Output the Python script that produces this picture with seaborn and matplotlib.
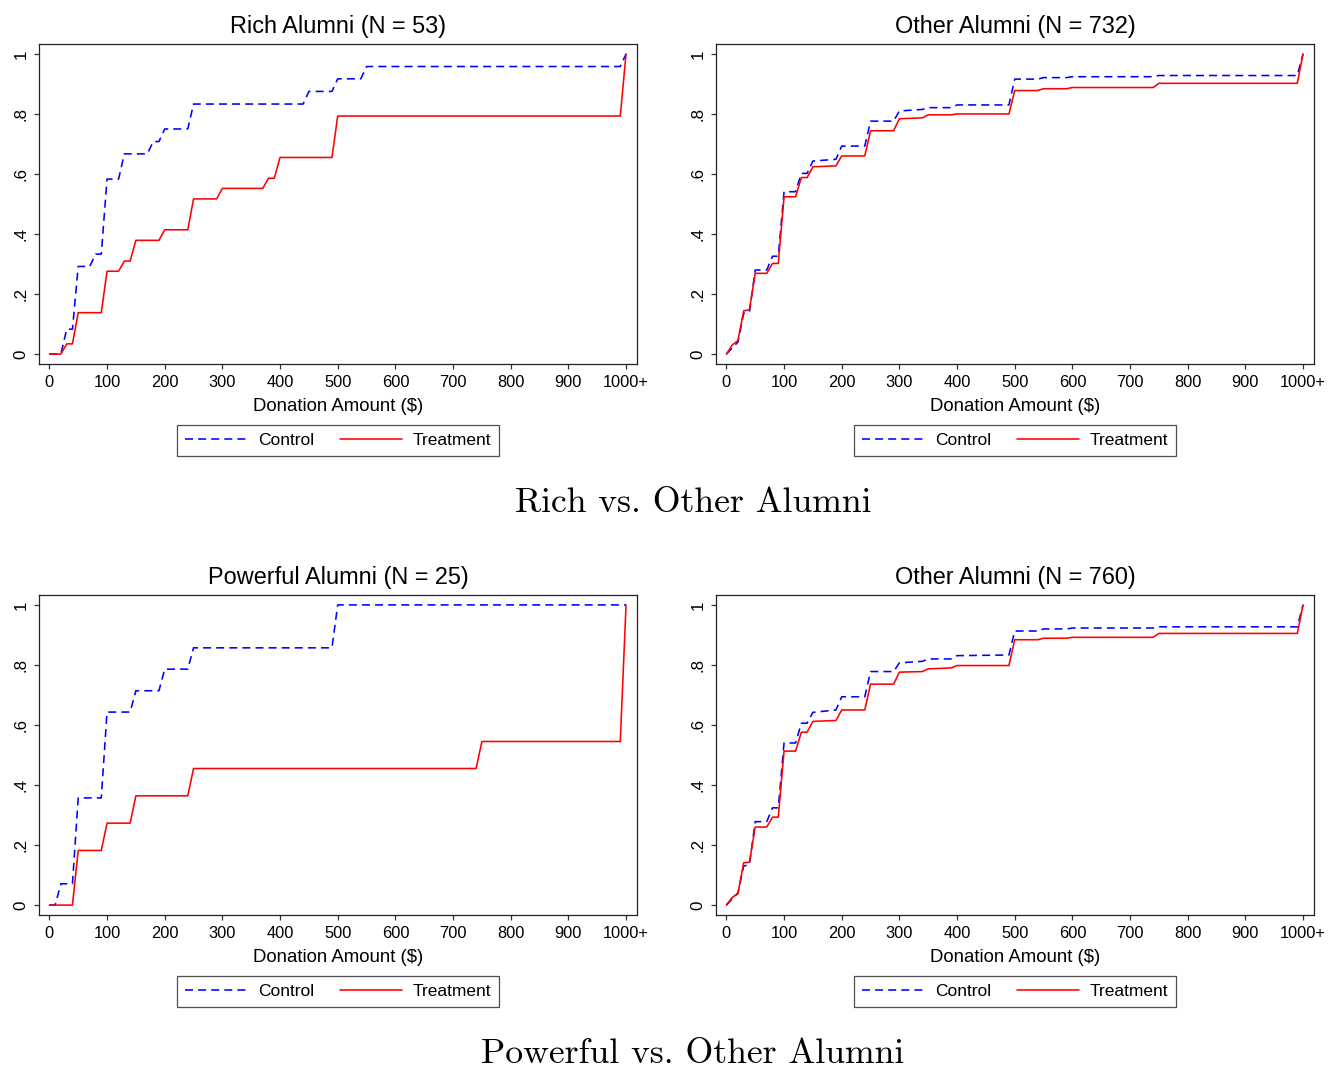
import matplotlib
matplotlib.use("Agg")
import matplotlib.pyplot as plt
import seaborn as sns
import pandas as pd

# ---------------- data (CDF vertices) ----------------
rich_ctrl_x = [0, 20, 30, 40, 50, 70, 80, 90, 100, 120, 130, 170, 180, 190, 200, 240, 250, 440, 450, 490, 500, 540, 550, 990, 1000]
rich_ctrl_y = [0, 0, .083, .083, .292, .292, .333, .333, .583, .583, .667, .667, .708, .708, .75, .75, .833, .833, .875, .875, .917, .917, .958, .958, 1]
rich_trt_x = [0, 20, 30, 40, 50, 90, 100, 120, 130, 140, 150, 190, 200, 240, 250, 290, 300, 370, 380, 390, 400, 490, 500, 990, 1000]
rich_trt_y = [0, 0, .034, .034, .138, .138, .276, .276, .310, .310, .379, .379, .414, .414, .517, .517, .552, .552, .586, .586, .655, .655, .793, .793, 1]

oth1_ctrl_x = [0, 10, 20, 30, 40, 50, 70, 80, 90, 100, 120, 130, 140, 150, 190, 200, 240, 250, 290, 300, 340, 350, 390, 400, 490, 500, 540, 550, 590, 600, 740, 750, 990, 1000]
oth1_ctrl_y = [0, .02, .04, .136, .14, .28, .28, .326, .326, .541, .541, .602, .602, .643, .649, .693, .693, .776, .776, .81, .815, .821, .821, .83, .83, .916, .916, .921, .921, .924, .924, .928, .928, 1]
oth1_trt_x = [0, 10, 20, 30, 40, 50, 70, 80, 90, 100, 120, 130, 140, 150, 190, 200, 240, 250, 290, 300, 340, 350, 390, 400, 490, 500, 540, 550, 590, 600, 740, 750, 990, 1000]
oth1_trt_y = [0, .03, .045, .144, .148, .269, .269, .302, .302, .524, .524, .588, .588, .624, .627, .66, .66, .744, .744, .784, .787, .797, .797, .80, .80, .878, .878, .884, .884, .888, .888, .902, .902, 1]

pow_ctrl_x = [0, 10, 20, 40, 50, 90, 100, 140, 150, 190, 200, 240, 250, 490, 500, 1000]
pow_ctrl_y = [0, 0, .071, .071, .357, .357, .643, .643, .714, .714, .786, .786, .857, .857, 1, 1]
pow_trt_x = [0, 40, 50, 90, 100, 140, 150, 240, 250, 740, 750, 990, 1000]
pow_trt_y = [0, 0, .182, .182, .273, .273, .364, .364, .455, .455, .545, .545, 1]

oth2_ctrl_x = [0, 10, 20, 30, 40, 50, 70, 80, 90, 100, 120, 130, 140, 150, 190, 200, 240, 250, 290, 300, 340, 350, 390, 400, 490, 500, 540, 550, 590, 600, 740, 750, 990, 1000]
oth2_ctrl_y = [0, .02, .04, .13, .135, .278, .278, .324, .324, .54, .54, .606, .606, .642, .65, .694, .694, .778, .778, .807, .812, .82, .82, .831, .833, .913, .913, .92, .92, .923, .923, .927, .927, 1]
oth2_trt_x = [0, 10, 20, 30, 40, 50, 70, 80, 90, 100, 120, 130, 140, 150, 190, 200, 240, 250, 290, 300, 340, 350, 390, 400, 490, 500, 540, 550, 590, 600, 740, 750, 990, 1000]
oth2_trt_y = [0, .025, .039, .141, .143, .26, .26, .293, .293, .513, .513, .576, .576, .612, .615, .65, .65, .736, .736, .776, .778, .787, .79, .798, .798, .884, .884, .889, .889, .892, .892, .905, .905, 1]

panel_titles = ["Rich Alumni (N = 53)", "Other Alumni (N = 732)",
                "Powerful Alumni (N = 25)", "Other Alumni (N = 760)"]
group_titles = ["Rich vs. Other Alumni", "Powerful vs. Other Alumni"]
series_names = ["Control", "Treatment"]
xtick_vals = [0, 100, 200, 300, 400, 500, 600, 700, 800, 900, 1000]
xtick_labels = ["0", "100", "200", "300", "400", "500", "600", "700", "800", "900", "1000+"]
ytick_vals = [0, 0.2, 0.4, 0.6, 0.8, 1.0]
ytick_labels = ["0", ".2", ".4", ".6", ".8", "1"]
xlabel = "Donation Amount ($)"

panels = [
    (rich_ctrl_x, rich_ctrl_y, rich_trt_x, rich_trt_y),
    (oth1_ctrl_x, oth1_ctrl_y, oth1_trt_x, oth1_trt_y),
    (pow_ctrl_x, pow_ctrl_y, pow_trt_x, pow_trt_y),
    (oth2_ctrl_x, oth2_ctrl_y, oth2_trt_x, oth2_trt_y),
]

# ---------------- style ----------------
sns.set_style("white")
plt.rcParams["font.family"] = ["Liberation Sans", "DejaVu Sans"]
plt.rcParams["axes.edgecolor"] = "#222222"
plt.rcParams["axes.linewidth"] = 0.9
plt.rcParams["text.color"] = "black"
plt.rcParams["axes.labelcolor"] = "black"

W, H = 1329, 1069
fig = plt.figure(figsize=(W / 100, H / 100), dpi=100)

# axes boxes in pixels: (left, top, right, bottom)
boxes = [(39, 44, 637, 364), (716, 44, 1314, 364),
         (39, 595, 637, 915), (716, 595, 1314, 915)]

palette = {"Control": "#0000ff", "Treatment": "#ff0000"}
dashes = {"Control": (5, 3.2), "Treatment": ""}

for i, (box, (cx, cy, tx, ty)) in enumerate(zip(boxes, panels)):
    assert len(cx) == len(cy) and len(tx) == len(ty)
    l, t, r, b = box
    ax = fig.add_axes([l / W, 1 - b / H, (r - l) / W, (b - t) / H])
    df = pd.DataFrame({
        "x": list(cx) + list(tx),
        "y": list(cy) + list(ty),
        "group": ["Control"] * len(cx) + ["Treatment"] * len(tx),
    })
    sns.lineplot(data=df, x="x", y="y", hue="group", style="group",
                 hue_order=series_names, style_order=series_names,
                 palette=palette, dashes=dashes, estimator=None, sort=False,
                 linewidth=1.15, legend=False, ax=ax)
    ax.set_xlim(-18, 1019)
    ax.set_ylim(-0.033, 1.033)
    ax.set_xticks(xtick_vals)
    ax.set_xticklabels(xtick_labels, fontsize=11.8)
    ax.set_yticks(ytick_vals)
    ax.set_yticklabels(ytick_labels, fontsize=12.2, rotation=90, va="center")
    ax.tick_params(axis="both", direction="out", length=3.6, width=0.9,
                   colors="#333333", labelcolor="black", pad=4,
                   bottom=True, left=True, top=False, right=False)
    for s in ax.spines.values():
        s.set_visible(True)
    ax.set_xlabel(xlabel, fontsize=13.4, labelpad=6)
    ax.set_ylabel("")
    ax.set_title(panel_titles[i], fontsize=16.9, pad=8)
    handles = ax.get_lines()[:2]
    leg = ax.legend(handles=handles, labels=series_names, loc="upper center",
                    bbox_to_anchor=(0.5, -0.191), ncol=2, fontsize=12.5,
                    frameon=True, fancybox=False, shadow=False,
                    handlelength=3.6, handletextpad=0.6, columnspacing=1.5,
                    borderpad=0.45, borderaxespad=0)
    leg.get_frame().set_edgecolor("#222222")
    leg.get_frame().set_linewidth(0.9)

fig.text(693 / W, 1 - 503 / H, group_titles[0], fontsize=25.7,
         family="cmr10", ha="center", va="center")
fig.text(693 / W, 1 - 1054 / H, group_titles[1], fontsize=25.7,
         family="cmr10", ha="center", va="center")

fig.savefig("out.png", dpi=100, facecolor="white")
